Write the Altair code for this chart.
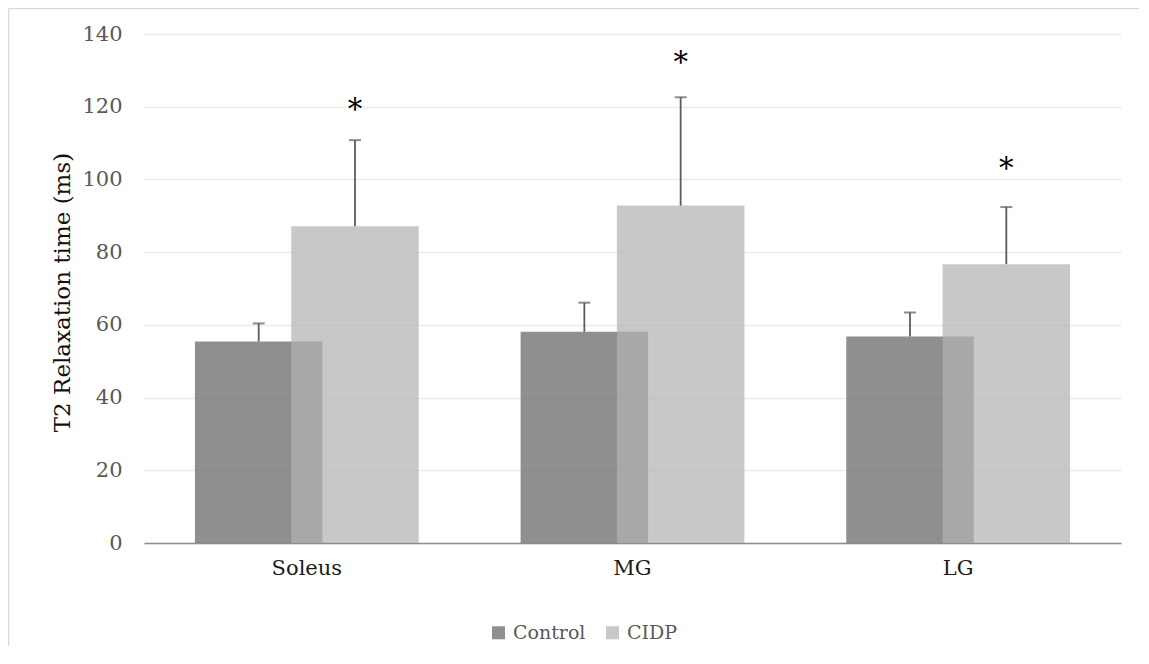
import altair as alt
import pandas as pd

# ---- data ----
muscles = ["Soleus", "MG", "LG"]
groups = ["Control", "CIDP"]
control_mean = [55.4, 58.1, 56.8]
control_sd = [5.0, 8.0, 6.6]
cidp_mean = [87.1, 92.8, 76.7]
cidp_sd = [23.7, 29.8, 15.7]
star_y = [119.0, 132.0, 103.0]   # position of significance asterisks
y_ticks = [0, 20, 40, 60, 80, 100, 120, 140]

rows = []
for g, means, sds in [("Control", control_mean, control_sd), ("CIDP", cidp_mean, cidp_sd)]:
    for m, mu, sd in zip(muscles, means, sds):
        rows.append({"muscle": m, "group": g, "mean": mu, "upper": mu + sd})
df = pd.DataFrame(rows)
stars = pd.DataFrame({"muscle": muscles, "group": ["CIDP"] * 3, "star": star_y, "label": ["*"] * 3})

FONT = "DejaVu Serif"

x_enc = alt.X("muscle:N", sort=muscles,
              scale=alt.Scale(paddingInner=0, paddingOuter=0),
              axis=alt.Axis(title=None, labelAngle=0, ticks=False, labelPadding=14,
                            labelFont=FONT, labelFontSize=21, labelColor="#1a1a1a",
                            domainColor="#8c8c8c", domainWidth=1.6))
xo_enc = alt.XOffset("group:N", sort=groups,
                     scale=alt.Scale(domain=groups, paddingInner=0, paddingOuter=0.691))
y_scale = alt.Scale(domain=[0, 140], nice=False)

bars = alt.Chart(df).mark_bar(width=127.5).encode(
    x=x_enc,
    xOffset=xo_enc,
    y=alt.Y("mean:Q", scale=y_scale,
            axis=alt.Axis(title="T2 Relaxation time (ms)", values=y_ticks, domain=False, ticks=False,
                          labelPadding=22, labelFont=FONT, labelFontSize=21, labelColor="#595959",
                          gridColor="#ececec", gridWidth=1.5,
                          titleFont=FONT, titleFontSize=23, titleFontWeight="normal", titleColor="#111111",
                          titleAngle=-90, titleAlign="center", titleBaseline="middle",
                          titleX=-82, titleY=258)),
    color=alt.Color("group:N", sort=groups,
                    scale=alt.Scale(domain=groups, range=["#737373", "#b2b2b2"]),
                    legend=alt.Legend(title=None, orient="none", direction="horizontal",
                                      legendX=345, legendY=589, symbolType="square", symbolSize=170,
                                      symbolOpacity=0.76, symbolStrokeWidth=0,
                                      labelFont=FONT, labelFontSize=19, labelColor="#595959",
                                      labelOffset=5, columnPadding=17)),
    opacity=alt.Opacity("group:N", sort=groups,
                        scale=alt.Scale(domain=groups, range=[0.8, 0.714]), legend=None),
)

err = alt.Chart(df).mark_rule(color="#5c5c5c", strokeWidth=1.8).encode(
    x=alt.X("muscle:N", sort=muscles), xOffset=alt.XOffset("group:N", sort=groups),
    y=alt.Y("mean:Q", scale=y_scale), y2="upper:Q")

caps = alt.Chart(df).mark_tick(color="#5c5c5c", thickness=2, size=12).encode(
    x=alt.X("muscle:N", sort=muscles), xOffset=alt.XOffset("group:N", sort=groups),
    y=alt.Y("upper:Q", scale=y_scale))

star_marks = alt.Chart(stars).mark_text(font=FONT, fontSize=29, color="#000000", baseline="middle").encode(
    x=alt.X("muscle:N", sort=muscles), xOffset=alt.XOffset("group:N", sort=groups),
    y=alt.Y("star:Q", scale=y_scale), text="label:N")

# light chart-area frame (decoration, as in the reference)
frame_df = pd.DataFrame({"f": [0]})
frame_left = alt.Chart(frame_df).mark_rule(color="#d9d9d9", strokeWidth=1.5, clip=False).encode(
    x=alt.value(-135.5), y=alt.value(-25.5), y2=alt.value(612))
frame_top = alt.Chart(frame_df).mark_rule(color="#d9d9d9", strokeWidth=1.5, clip=False).encode(
    x=alt.value(-135.5), x2=alt.value(995), y=alt.value(-25.5))

chart = alt.layer(frame_left, frame_top, bars, err, caps, star_marks).properties(
    width=977, height=509,
    padding={"left": 136, "top": 26, "right": 20, "bottom": 113},
    autosize="none",
    background="white",
).configure_view(stroke=None)

chart.save("out.html", embed_options={"renderer": "svg", "actions": False})
